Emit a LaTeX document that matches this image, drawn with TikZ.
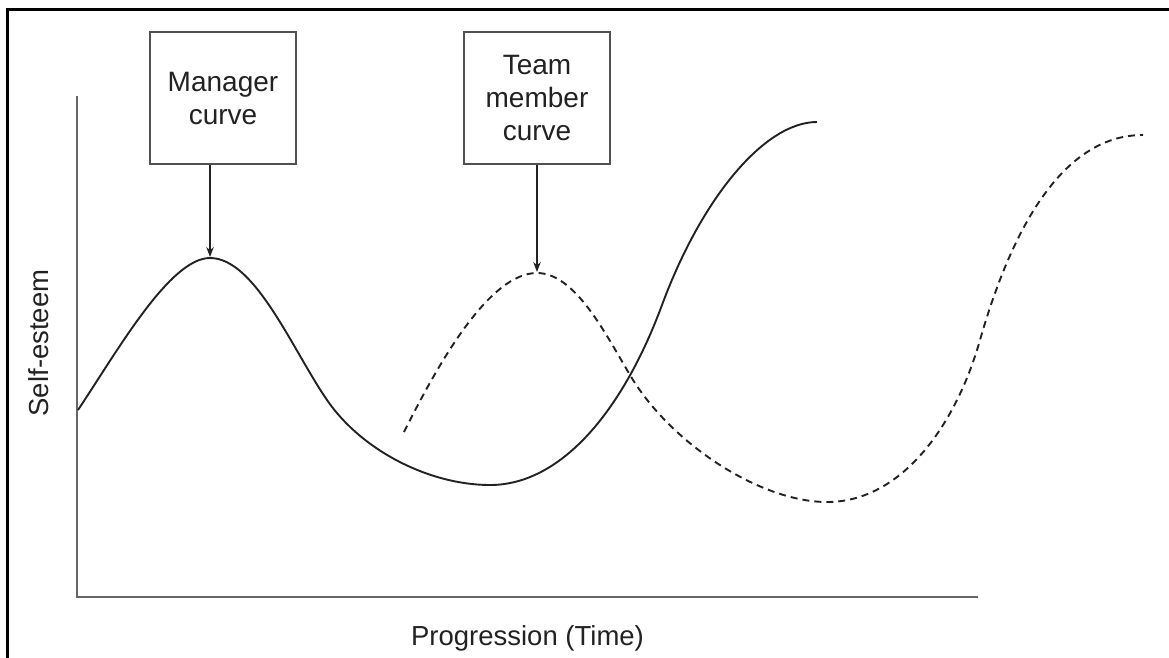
\documentclass[tikz,border=0pt]{standalone}
\usepackage{fontspec}
\setmainfont{Liberation Sans}
\usetikzlibrary{arrows.meta}
\definecolor{ink}{HTML}{222222}
\definecolor{axisgray}{HTML}{666666}
\definecolor{boxgray}{HTML}{505050}
\begin{document}
\begin{tikzpicture}[x=1pt,y=-1pt,
  labelbox/.style={draw=boxgray, line width=1.6pt, minimum width=146pt,
    minimum height=132pt, align=center, inner sep=0pt, text=ink,
    font=\fontsize{28}{33}\selectfont},
  axislabel/.style={text=ink, font=\fontsize{27.5}{32}\selectfont, inner sep=0pt},
  axisline/.style={draw=axisgray, line width=1.8pt},
  curve/.style={draw=ink, line width=1.9pt},
  dashedcurve/.style={curve, dash pattern=on 7pt off 5pt},
  pointer/.style={draw=ink, line width=1.3pt, shorten >=1pt,
    -{Stealth[length=10pt,width=7.5pt]}}
]
\useasboundingbox (0,0) rectangle (1169,657);
\fill[white] (0,0) rectangle (1169,657);

% outer frame (top and left edges)
\draw[line width=2.4pt, line cap=rect] (7.5,662) -- (7.5,9.5) -- (1175,9.5);

% axes
\coordinate (ytop) at (77,96);
\coordinate (origin) at (77,597);
\coordinate (xend) at (978,597);
\draw[axisline] (ytop) -- (origin) -- (xend);

% axis labels
\node[axislabel, anchor=base, rotate=90] (ylab) at (48,343) {Self-esteem};
\node[axislabel, anchor=base] (xlab) at (527.5,645) {Progression (Time)};

% callout boxes
\node[labelbox] (mgr) at (223,98) {Manager\\curve};
\node[labelbox] (team) at (537,98) {Team\\member\\curve};

% curve peaks
\coordinate (mpeak) at (210,258);
\coordinate (tpeak) at (537,273);

% manager curve
\draw[curve] (78,410) .. controls (118,350) and (170,258) .. (mpeak)
  .. controls (255,258) and (292,349) .. (327,400)
  .. controls (362,451) and (430,485) .. (490,485)
  .. controls (560,485) and (622,413) .. (662,305)
  .. controls (702,197) and (765,122) .. (817,122);

% team member curve
\draw[dashedcurve] (404,432) .. controls (440,360) and (490,273) .. (tpeak)
  .. controls (575,273) and (605,333) .. (630,375)
  .. controls (670,443) and (760,502) .. (827,502)
  .. controls (900,502) and (955,428) .. (980,340)
  .. controls (1010,235) and (1060,135) .. (1143,135);

% pointers
\draw[pointer] (mgr.south -| mpeak) -- (mpeak);
\draw[pointer] (team.south -| tpeak) -- (tpeak);
\end{tikzpicture}
\end{document}
